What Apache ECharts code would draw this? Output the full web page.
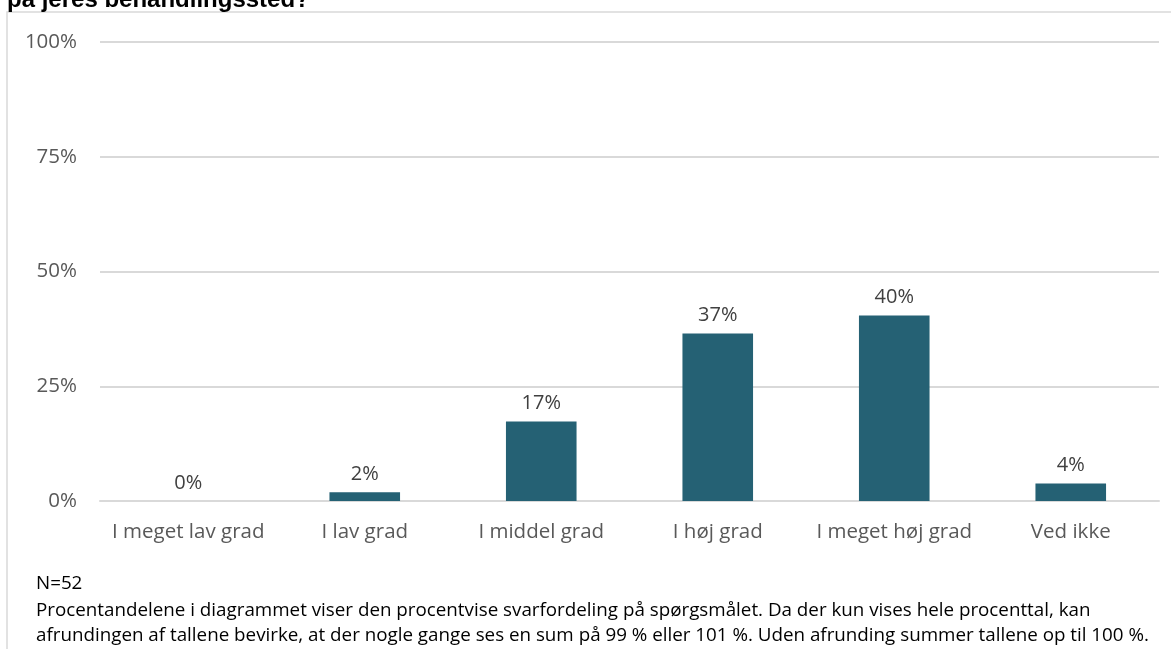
<!DOCTYPE html>
<html>
<head>
<meta charset="utf-8">
<script src="https://cdn.jsdelivr.net/npm/echarts@6/dist/echarts.min.js"></script>
<style>
html,body{margin:0;padding:0;background:#fff;}
#c{width:1171px;height:649px;}
</style>
</head>
<body>
<div id="c"></div>
<script>
const categories = ['I meget lav grad', 'I lav grad', 'I middel grad', 'I høj grad', 'I meget høj grad', 'Ved ikke'];
const values = [0, 1.9, 17.3, 36.5, 40.4, 3.8];
const yTicks = [0, 25, 50, 75, 100];
const titleText = 'på jeres behandlingssted?';
const noteN = 'N=52';
const noteLines = [
  'Procentandelene i diagrammet viser den procentvise svarfordeling på spørgsmålet. Da der kun vises hele procenttal, kan',
  'afrundingen af tallene bevirke, at der nogle gange ses en sum på 99 % eller 101 %. Uden afrunding summer tallene op til 100 %.'
];

const chart = echarts.init(document.getElementById('c'));
const font = '"Open Sans", sans-serif';
chart.setOption({
  animation: false,
  grid: {left: 100, right: 12, top: 42, bottom: 148},
  xAxis: {
    type: 'category',
    data: categories,
    axisLine: {lineStyle: {color: '#d9d9d9', width: 2}},
    axisTick: {show: false},
    axisLabel: {color: '#595959', fontSize: 20.5, fontFamily: font, margin: 21, interval: 0}
  },
  yAxis: {
    type: 'value',
    min: yTicks[0], max: yTicks[yTicks.length - 1], interval: 25,
    axisLine: {show: false},
    axisTick: {show: false},
    splitLine: {lineStyle: {color: '#d9d9d9', width: 2}},
    axisLabel: {color: '#595959', fontSize: 20.5, fontFamily: font, margin: 23, formatter: v => v + '%'}
  },
  series: [{
    type: 'bar',
    data: values,
    barWidth: '40%',
    itemStyle: {color: '#256174'},
    label: {
      show: true, position: 'top', distance: 8,
      color: '#404040', fontSize: 20, fontFamily: font,
      formatter: p => Math.round(p.value) + '%'
    }
  }],
  graphic: [
    {type: 'rect', shape: {x: 7, y: 12, width: 1200, height: 700}, style: {fill: 'none', stroke: '#d9d9d9', lineWidth: 1.5}, silent: true},
    {type: 'text', x: 7, y: 0, style: {text: titleText, font: 'bold 24px "Liberation Sans", Arial, sans-serif', fill: '#000', verticalAlign: 'middle'}},
    {type: 'text', x: 36, y: 584, style: {text: noteN, font: '18.8px ' + font, fill: '#000', verticalAlign: 'middle'}},
    {type: 'text', x: 36, y: 611, style: {text: noteLines[0], font: '18.8px ' + font, fill: '#000', verticalAlign: 'middle'}},
    {type: 'text', x: 36, y: 636, style: {text: noteLines[1], font: '18.8px ' + font, fill: '#000', verticalAlign: 'middle'}}
  ]
});
</script>
</body>
</html>
